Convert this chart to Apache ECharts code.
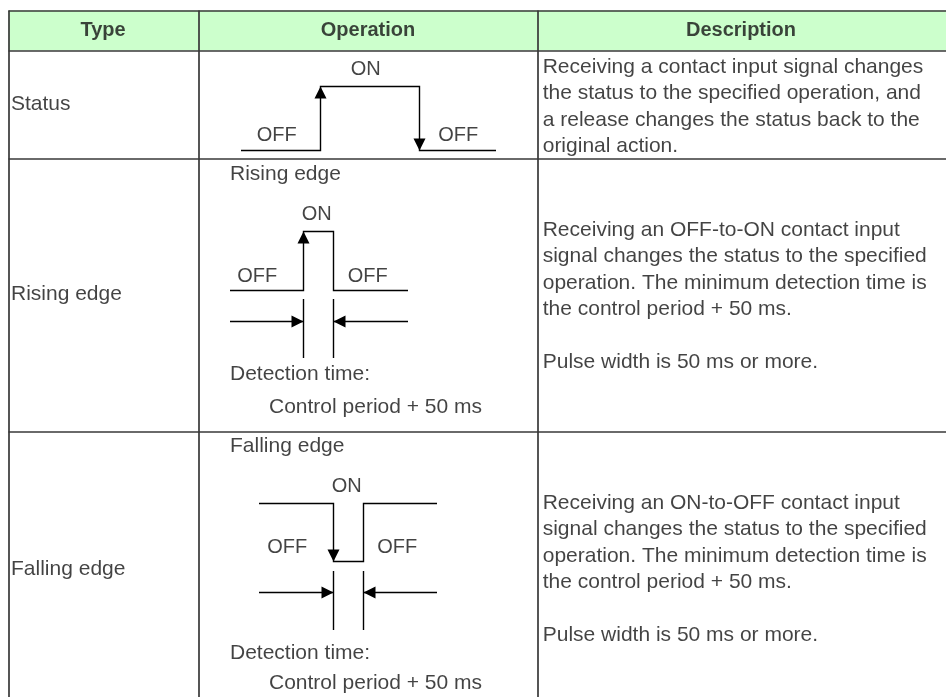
<!DOCTYPE html>
<html><head><meta charset="utf-8">
<script src="https://cdn.jsdelivr.net/npm/echarts@6/dist/echarts.min.js"></script>
<style>html,body{margin:0;padding:0;background:#fff}#c{width:946px;height:697px}</style>
</head><body><div id="c"></div>
<script>
// ---- table content ----
const headers = ['Type', 'Operation', 'Description'];
const headerCenters = [103, 368, 741];
const types = ['Status', 'Rising edge', 'Falling edge'];
const typeRowCenters = [104, 294.5, 569];
const descriptions = [
  'Receiving a contact input signal changes\nthe status to the specified operation, and\na release changes the status back to the\noriginal action.',
  'Receiving an OFF-to-ON contact input\nsignal changes the status to the specified\noperation. The minimum detection time is\nthe control period + 50 ms.\n\nPulse width is 50 ms or more.',
  'Receiving an ON-to-OFF contact input\nsignal changes the status to the specified\noperation. The minimum detection time is\nthe control period + 50 ms.\n\nPulse width is 50 ms or more.'
];
const descCenters = [106.5, 296.3, 569];

// ---- table frame (value units of the page axes) ----
const colEdges = [8.5, 198.5, 537.5, 952];
const rowEdges = [10.5, 50.5, 158.5, 431.5, 712];

// ---- waveforms ----
const statusWave  = [[241, 150.5], [320.5, 150.5], [320.5, 86.5], [419.5, 86.5], [419.5, 150.5], [496, 150.5]];
const risingWave  = [[230, 290.5], [303.5, 290.5], [303.5, 231.5], [333.5, 231.5], [333.5, 290.5], [408, 290.5]];
const fallingWave = [[259, 503.5], [333.5, 503.5], [333.5, 561.5], [363.5, 561.5], [363.5, 503.5], [437, 503.5]];
const risingTicks  = [[[303.5, 299], [303.5, 358]], [[333.5, 299], [333.5, 358]]];
const risingSpan   = [[[230, 321.5], [303.5, 321.5]], [[408, 321.5], [333.5, 321.5]]];
const fallingTicks = [[[333.5, 571], [333.5, 630]], [[363.5, 571], [363.5, 630]]];
const fallingSpan  = [[[259, 592.5], [333.5, 592.5]], [[437, 592.5], [363.5, 592.5]]];
const arrowTips = [
  [320.5, 86.5, 'up'], [419.5, 150.5, 'down'],
  [303.5, 231.5, 'up'], [303.5, 321.5, 'right'], [333.5, 321.5, 'left'],
  [333.5, 561.5, 'down'], [333.5, 592.5, 'right'], [363.5, 592.5, 'left']
];
const diagramLabels = [
  ['ON', 365.7, 69.3, 'center'], ['OFF', 276.7, 135, 'center'], ['OFF', 458.3, 135, 'center'],
  ['Rising edge', 230, 174, 'left'], ['ON', 316.7, 214, 'center'],
  ['OFF', 257.3, 276, 'center'], ['OFF', 367.7, 276, 'center'],
  ['Detection time:', 230, 374, 'left'], ['Control period + 50 ms', 269, 407, 'left'],
  ['Falling edge', 230, 446.7, 'left'], ['ON', 346.7, 486.7, 'center'],
  ['OFF', 287.3, 547.3, 'center'], ['OFF', 397.3, 547.3, 'center'],
  ['Detection time:', 230, 653, 'left'], ['Control period + 50 ms', 269, 683.3, 'left']
];

const TEXT = '#141414';
const FONT = 'Liberation Sans, Arial, sans-serif';
const ARROW_W = 12, ARROW_H = 12;

// build frame segments
const frameSegs = [];
rowEdges.forEach(y => frameSegs.push({ coords: [[colEdges[0], y], [colEdges[colEdges.length - 1], y]] }));
colEdges.forEach(x => frameSegs.push({ coords: [[x, rowEdges[0]], [x, rowEdges[rowEdges.length - 1]]] }));

const waveSegs = [statusWave, risingWave, fallingWave].map(w => ({ coords: w }))
  .concat(risingTicks.concat(risingSpan, fallingTicks, fallingSpan).map(s => ({ coords: s })));

const dirs = { up: [0, -1, 0], down: [0, 1, 180], right: [1, 0, -90], left: [-1, 0, 90] };
const arrowData = arrowTips.map(([x, y, d]) => {
  const v = dirs[d];
  return { value: [x - v[0] * ARROW_H / 2, y - v[1] * ARROW_H / 2], symbolRotate: v[2] };
});

function textItem(x, y, text, align, size, weight) {
  return {
    value: [x, y],
    label: { show: true, formatter: text, align: align, verticalAlign: 'middle',
      color: TEXT, fontFamily: FONT, textBorderWidth: 0,
      fontSize: size, fontWeight: weight || 'normal', lineHeight: 26.5 }
  };
}
const textData = [];
headers.forEach((h, i) => textData.push(textItem(headerCenters[i], 30.5, h, 'center', 20, 'bold')));
types.forEach((t, i) => textData.push(textItem(11, typeRowCenters[i], t, 'left', 21)));
descriptions.forEach((d, i) => textData.push(textItem(542.7, descCenters[i], d, 'left', 21)));
diagramLabels.forEach(([t, x, y, a]) => textData.push(textItem(x, y, t, a, t === 'ON' || t === 'OFF' ? 20 : 21)));

const chart = echarts.init(document.getElementById('c'), null, { renderer: 'canvas' });
chart.setOption({
  animation: false,
  backgroundColor: '#ffffff',
  textStyle: { fontFamily: FONT },
  grid: { left: 0, right: 0, top: 0, bottom: 0, containLabel: false },
  xAxis: { type: 'value', min: 0, max: 946, show: false },
  yAxis: { type: 'value', min: 0, max: 697, inverse: true, show: false },
  series: [
    {
      type: 'custom', silent: true, z: 1,
      data: [[colEdges[0], rowEdges[0], colEdges[colEdges.length - 1], rowEdges[1]]],
      renderItem: (params, api) => {
        const p0 = api.coord([api.value(0), api.value(1)]);
        const p1 = api.coord([api.value(2), api.value(3)]);
        return { type: 'rect', shape: { x: p0[0], y: p0[1], width: p1[0] - p0[0], height: p1[1] - p0[1] },
          style: { fill: '#ccffcc' } };
      }
    },
    {
      type: 'lines', coordinateSystem: 'cartesian2d', polyline: false, silent: true, z: 2,
      lineStyle: { color: '#383838', width: 1.7, opacity: 1 },
      data: frameSegs
    },
    {
      type: 'lines', coordinateSystem: 'cartesian2d', polyline: true, silent: true, z: 3,
      lineStyle: { color: '#000000', width: 1.4, opacity: 1 },
      data: waveSegs
    },
    {
      type: 'scatter', silent: true, z: 4,
      symbol: 'triangle', symbolSize: [ARROW_W, ARROW_H],
      itemStyle: { color: '#000000', opacity: 1 },
      data: arrowData
    },
    {
      type: 'scatter', silent: true, z: 5,
      symbolSize: 0,
      label: { show: true, position: [0, 0], color: TEXT, fontFamily: FONT },
      data: textData
    }
  ]
});
</script>
</body></html>
